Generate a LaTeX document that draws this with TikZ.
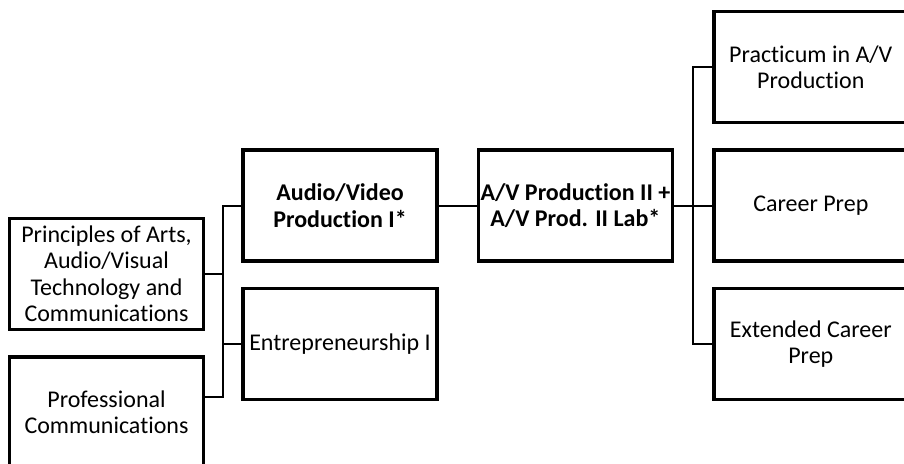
\documentclass[tikz,border=0pt]{standalone}
\usepackage{fontspec}
\setmainfont[Ligatures=NoCommon]{Carlito}
\usepackage{tikz}
\usetikzlibrary{calc}
\usetikzlibrary{positioning}

\begin{document}
\begin{tikzpicture}[x=1pt,y=-1pt,node distance=24pt and 38pt,every node/.style = {align=center},
    course/.style = {draw,line width=3.4pt,minimum width=194pt,minimum height=111pt,inner sep=0pt,font=\fontsize{24}{26.5}\selectfont},
    core/.style = {course,font=\fontsize{24}{26.5}\selectfont\bfseries},
    link/.style = {line width=2pt}]
\path[use as bounding box,clip] (0,0) rectangle (904,463);
\node[course] (princ) at (106.5,274) {Principles of Arts,\\ Audio/Visual\\ Technology and\\ Communications};
\node[course, below=of princ] (prof) {Professional\\ Communications};
\node[core] (avone) at (340,205.5) {Audio/Video\\ Production I*};
\node[course, below=of avone] (entre) {Entrepreneurship I};
\node[core, right=of avone] (avtwo) {A/V Production II +\\ A/V Prod. II Lab*};
\node[course, right=of avtwo] (career) {Career Prep};
\node[course, above=of career] (pract) {Practicum in A/V\\ Production};
\node[course, below=of career] (ext) {Extended Career\\ Prep};
\coordinate (lbus) at ($(princ.east)!0.5!(avone.west)$);
\coordinate (rbus) at ($(avtwo.east)!0.5!(career.west)$);
\draw[link] (avone.west) -| (lbus) |- ([yshift=15pt]prof.east);
\draw[link] (princ.east) -- (princ.east -| lbus);
\draw[link] (entre.west) -- (entre.west -| lbus);
\draw[link] (avone.east) -- (avtwo.west);
\draw[link] (avtwo.east) -- (career.west);
\draw[link] (pract.west) -| (rbus) |- (ext.west);
\end{tikzpicture}
\end{document}
